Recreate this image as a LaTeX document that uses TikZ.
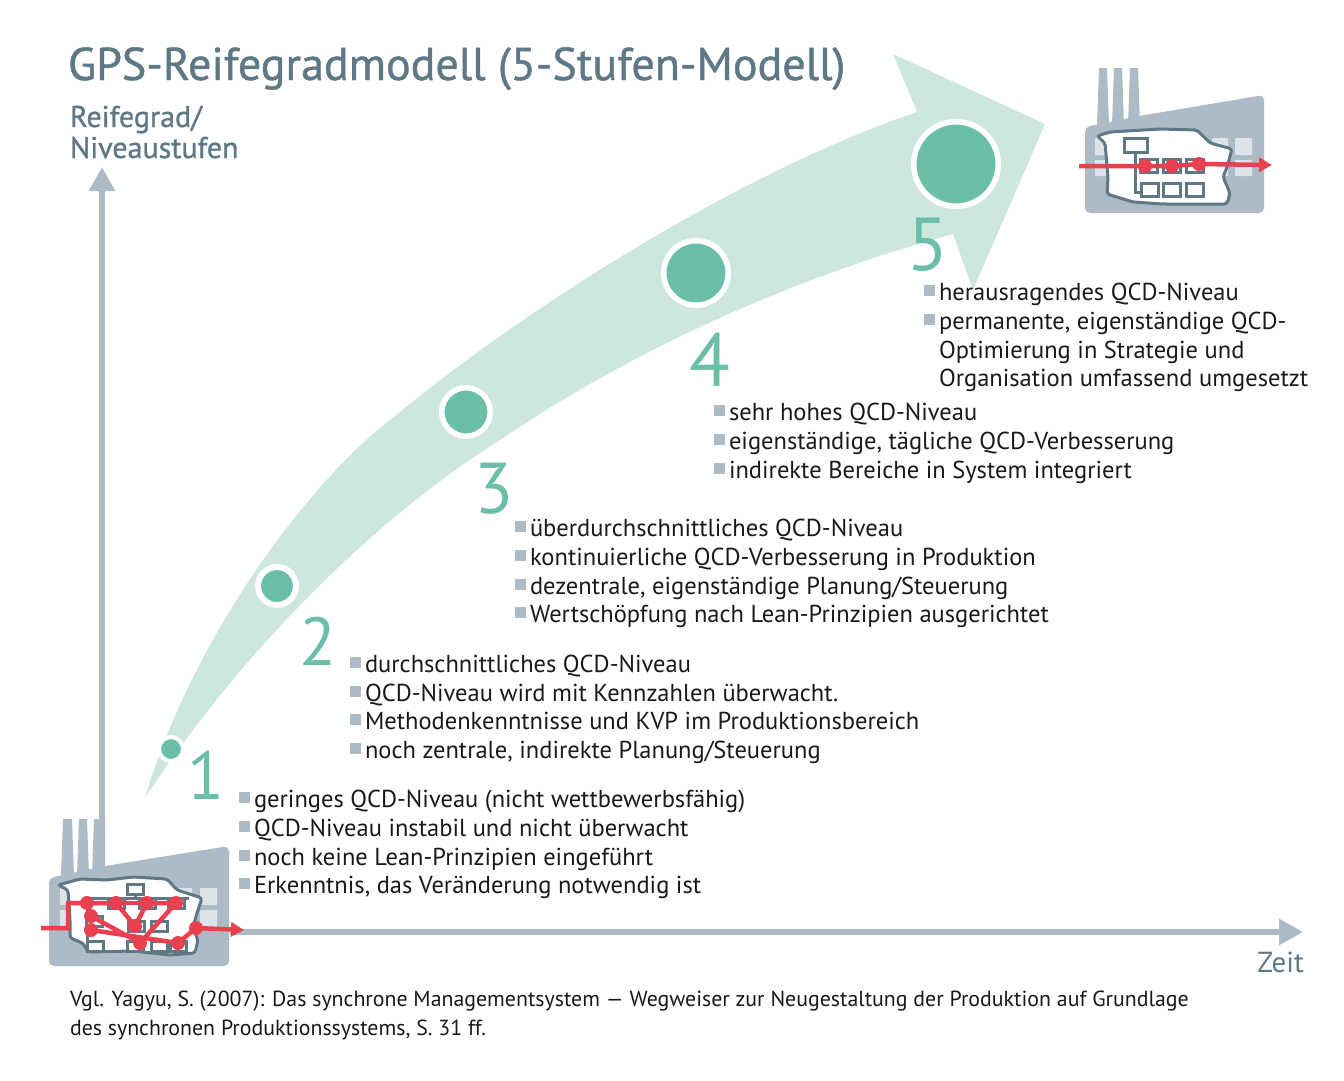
\documentclass[tikz,border=0pt]{standalone}
\usepackage{fontspec}
\setmainfont{PT Sans}
\newfontfamily\headfont[FakeBold=1.0]{PT Sans}
\usetikzlibrary{arrows.meta}
\definecolor{pale}{HTML}{CDE7DC}
\definecolor{teal}{HTML}{6BBFA8}
\definecolor{steel}{HTML}{ADBBC6}
\definecolor{slate}{HTML}{5F7885}
\definecolor{pane}{HTML}{DDE3EA}
\definecolor{flow}{HTML}{E8404F}
\newcommand{\bul}{\llap{\textcolor{steel}{\rule[4pt]{11pt}{11pt}}\hspace{4pt}}}
\begin{document}
\begin{tikzpicture}[x=1pt, y=-1pt,
	every node/.style = {inner sep=0pt, outer sep=0pt},
	item/.style = {anchor=base west, font=\fontsize{24.5}{30}\selectfont, text=black!90},
	digit/.style = {text=teal},
	heading/.style = {anchor=base west, text=slate},
	axis/.style = {draw=steel, line width=6pt, -{Triangle[length=24pt,width=25pt]}},
	stage/.style = {circle, fill=teal, draw=white},
	body/.style = {fill=steel, rounded corners=5pt},
	flr/.style = {fill=white, draw=slate, line width=3pt, rounded corners=3pt},
	orgbox/.style = {draw=slate, line width=3pt, fill=white},
	dot/.style = {circle, fill=flow, minimum size=14pt},
	redline/.style = {draw=flow, line width=4.5pt},
	redarrow/.style = {redline, -{Triangle[length=13pt,width=14pt]}}]
\useasboundingbox (0,0) rectangle (1344,1080);
% big arrow
\fill[pale] (145,798) .. controls (187,654) and (296,490) .. (400,412) .. controls (530,305) and (745,170) .. (917,112) -- (893,54) -- (1045,124) -- (973,290) -- (953,234) .. controls (800,276) and (640,345) .. (500,440) .. controls (360,528) and (230,668) .. (145,798) -- cycle;
% axes
\coordinate (origin_y) at (102,868);
\coordinate (top_y) at (102,167);
\coordinate (origin_x) at (230,932);
\coordinate (end_x) at (1303,932);
\draw[axis] (origin_y) -- (top_y);
\draw[axis] (origin_x) -- (end_x);
% factory left
\fill[steel] (63,819) -- (72,819) -- (74,875) -- (61,875) -- cycle;
\fill[steel] (79,819) -- (87,819) -- (89,875) -- (77,875) -- cycle;
\fill[steel] (94,819) -- (105,819) -- (105,875) -- (92,875) -- cycle;
\fill[body] (49,878) -- (105,866) -- (229,846) -- (229,966) -- (49,966) -- cycle;
\fill[pane] (60,888) rectangle (70,905) (60,910) rectangle (70,927) (175,888) rectangle (192,905) (200,888) rectangle (217,905) (200,910) rectangle (217,927);
\draw[flr] (58,885) -- (80,879) -- (107,880) -- (133,877) -- (167,879) -- (177,890) -- (202,898) -- (197,913) -- (193,927) -- (198,940) -- (195,953) -- (170,955) -- (133,951) -- (88,952) -- (83,943) -- (70,938) -- (70,917) -- (68,890) -- cycle;
\draw[orgbox] (135,889) -- (135,898);
\draw[orgbox] (87,898) -- (189,898);
\draw[orgbox] (87,898) -- (87,950);
\foreach \bx/\by in {135/889, 116/903, 147/903, 176/903, 94/921, 136/926, 159/926, 95/946, 135/946, 159/946, 178/946}
	\draw[orgbox] (\bx-8,\by-5) rectangle (\bx+8,\by+5);
% flow left
\coordinate (in_a) at (41,928);
\coordinate (out_a) at (244,930);
\node[dot] (a1) at (87,903) {};
\node[dot] (a2) at (116,903) {};
\node[dot] (a3) at (147,903) {};
\node[dot] (a4) at (176,903) {};
\node[dot] (a5) at (91,916) {};
\node[dot] (a6) at (91,930) {};
\node[dot] (a7) at (135,926) {};
\node[dot] (a8) at (140,943) {};
\node[dot] (a9) at (178,943) {};
\node[dot] (a10) at (196,928) {};
\draw[redline] (in_a) -- (68,928) -- (68,903) -- (a1.center) -- (a2.center) -- (a7.center) -- (a3.center) -- (a4.center) -- (a8.center) -- (a5.center);
\draw[redline] (a1.center) -- (a5.center);
\draw[redline] (a6.center) -- (a9.center) -- (a10.center);
\draw[redline] (a2.center) -- (a3.center);
\draw[redarrow] (a10.center) -- (out_a);
% factory right
\fill[steel] (1099,68) -- (1107,68) -- (1109,125) -- (1097,125) -- cycle;
\fill[steel] (1114,68) -- (1122,68) -- (1124,125) -- (1112,125) -- cycle;
\fill[steel] (1130,68) -- (1138,68) -- (1140,125) -- (1128,125) -- cycle;
\fill[body] (1085,127) -- (1139,116) -- (1264,95) -- (1264,213) -- (1085,213) -- cycle;
\fill[pane] (1095,138) rectangle (1106,155) (1095,160) rectangle (1106,176) (1212,138) rectangle (1228,155) (1235,138) rectangle (1252,155) (1235,160) rectangle (1252,176) (1212,160) rectangle (1228,176);
\draw[flr] (1097,136) -- (1110,132) -- (1160,129) -- (1197,130) -- (1210,143) -- (1232,149) -- (1227,167) -- (1223,177) -- (1230,193) -- (1227,204) -- (1193,204) -- (1163,204) -- (1133,202) -- (1107,194) -- (1108,177) -- (1105,143) -- cycle;
\draw[orgbox] (1135,153) -- (1135,192) -- (1141,192);
\draw[orgbox] (1135,166) -- (1140,166);
\draw[orgbox] (1124,138) rectangle (1147,152);
\foreach \bx/\by in {1149/166, 1172/166, 1195/166, 1150/190, 1172/190, 1195/190}
	\draw[orgbox] (\bx-8.5,\by-6.5) rectangle (\bx+8.5,\by+6.5);
% flow right
\coordinate (in_b) at (1079,166);
\coordinate (out_b) at (1272,165);
\node[dot] (b1) at (1145,166) {};
\node[dot] (b2) at (1172,166) {};
\node[dot] (b3) at (1199,164) {};
\draw[redarrow] (in_b) -- (b1.center) -- (b2.center) -- (b3.center) -- (out_b);
% stages
\node[stage, minimum size=24pt, line width=4pt] (s1) at (171,749) {};
\node[stage, minimum size=38pt, line width=6pt] (s2) at (277,586) {};
\node[stage, minimum size=48.5pt, line width=5.5pt] (s3) at (466,412) {};
\node[stage, minimum size=64.5pt, line width=5.5pt] (s4) at (696,273) {};
\node[stage, minimum size=84.5pt, line width=5.5pt] (s5) at (956,164) {};
\node[digit, font=\fontsize{68}{68}\selectfont] (n1) at (206,775) {1};
\node[digit, font=\fontsize{68}{68}\selectfont] (n2) at (318,641) {2};
\node[digit, font=\fontsize{72}{72}\selectfont] (n3) at (494,489) {3};
\node[digit, font=\fontsize{75}{75}\selectfont] (n4) at (710,360) {4};
\node[digit, font=\fontsize{75}{75}\selectfont] (n5) at (928,245) {5};
% texts
\node[heading, font=\fontsize{46}{50}\headfont] (title) at (68,80) {GPS-Reifegradmodell (5-Stufen-Modell)};
\node[heading, font=\fontsize{30}{32}\headfont] (ylab1) at (70,127) {Reifegrad/};
\node[heading, font=\fontsize{30}{32}\headfont] (ylab2) at (70,158) {Niveaustufen};
\node[heading, font=\fontsize{29}{32}\selectfont, anchor=base east] (xlab) at (1304,972) {Zeit};
\node[item] (a_1) at (254,807) {\bul geringes QCD-Niveau (nicht wettbewerbsfähig)};
\node[item] (a_2) at (254,836) {\bul QCD-Niveau instabil und nicht überwacht};
\node[item] (a_3) at (254,865) {\bul noch keine Lean-Prinzipien eingeführt};
\node[item] (a_4) at (254,893) {\bul Erkenntnis, das Veränderung notwendig ist};
\node[item] (b_1) at (365,672) {\bul durchschnittliches QCD-Niveau};
\node[item] (b_2) at (365,701) {\bul QCD-Niveau wird mit Kennzahlen überwacht.};
\node[item] (b_3) at (365,729) {\bul Methodenkenntnisse und KVP im Produktionsbereich};
\node[item] (b_4) at (365,758) {\bul noch zentrale, indirekte Planung/Steuerung};
\node[item] (c_1) at (530,536) {\bul überdurchschnittliches QCD-Niveau};
\node[item] (c_2) at (530,565) {\bul kontinuierliche QCD-Verbesserung in Produktion};
\node[item] (c_3) at (530,594) {\bul dezentrale, eigenständige Planung/Steuerung};
\node[item] (c_4) at (530,622) {\bul Wertschöpfung nach Lean-Prinzipien ausgerichtet};
\node[item] (d_1) at (729,420) {\bul sehr hohes QCD-Niveau};
\node[item] (d_2) at (729,449) {\bul eigenständige, tägliche QCD-Verbesserung};
\node[item] (d_3) at (729,478) {\bul indirekte Bereiche in System integriert};
\node[item] (e_1) at (939,300) {\bul herausragendes QCD-Niveau};
\node[item] (e_2) at (939,329) {\bul permanente, eigenständige QCD-};
\node[item] (e_3) at (939,358) {Optimierung in Strategie und};
\node[item] (e_4) at (939,386) {Organisation umfassend umgesetzt};
\node[item, font=\fontsize{21.85}{26}\selectfont] (src1) at (70,1006) {Vgl. Yagyu, S. (2007): Das synchrone Managementsystem — Wegweiser zur Neugestaltung der Produktion auf Grundlage};
\node[item, font=\fontsize{21.85}{26}\selectfont] (src2) at (70,1035) {des synchronen Produktionssystems, S. 31 ff.};
\end{tikzpicture}
\end{document}
